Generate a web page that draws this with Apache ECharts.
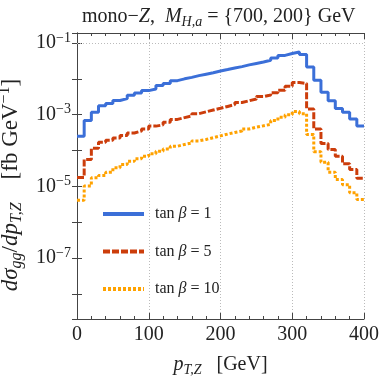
<!DOCTYPE html>
<html>
<head>
<meta charset="utf-8">
<script src="https://cdn.jsdelivr.net/npm/echarts@6/dist/echarts.min.js"></script>
<style>
  html, body { margin: 0; padding: 0; background: #fff; }
  #chart { width: 381px; height: 381px; }
</style>
</head>
<body>
<div id="chart"></div>
<script>
// bin lower edges (GeV), 10 GeV bins
const binLo = [0, 10, 20, 30, 40, 50, 60, 70, 80, 90,
  100, 110, 120, 130, 140, 150, 160, 170, 180, 190,
  200, 210, 220, 230, 240, 250, 260, 270, 280, 290,
  300, 310, 320, 330, 340, 350, 360, 370, 380, 390]
const binEnd = 400

// tan beta = 1
const tb1 = [2.5e-4, 6.9e-4, 1.17e-3, 1.78e-3, 2.04e-3, 2.5e-3, 2.8e-3, 3.5e-3, 4.0e-3, 4.7e-3,
  5.2e-3, 6.5e-3, 7.4e-3, 8.9e-3, 1.0e-2, 1.1e-2, 1.23e-2, 1.35e-2, 1.48e-2, 1.66e-2,
  1.82e-2, 2.0e-2, 2.19e-2, 2.45e-2, 2.69e-2, 2.95e-2, 3.3e-2, 3.8e-2, 4.5e-2, 5.1e-2,
  5.6e-2, 4.8e-2, 2.14e-2, 9.1e-3, 4.2e-3, 2.45e-3, 1.48e-3, 1.17e-3, 7.6e-4, 4.8e-4]
// tan beta = 5
const tb5 = [1.78e-5, 5.6e-5, 1.15e-4, 1.7e-4, 1.95e-4, 2.24e-4, 2.63e-4, 3.1e-4, 3.5e-4, 4.0e-4,
  4.8e-4, 5.2e-4, 6.2e-4, 7.4e-4, 8.3e-4, 9.3e-4, 1.07e-3, 1.2e-3, 1.35e-3, 1.51e-3,
  1.7e-3, 1.91e-3, 2.19e-3, 2.45e-3, 2.75e-3, 3.2e-3, 3.55e-3, 4.1e-3, 4.8e-3, 6.2e-3,
  7.9e-3, 7.4e-3, 1.45e-3, 4.0e-4, 1.58e-4, 1.07e-4, 6.9e-5, 4.3e-5, 2.95e-5, 1.7e-5]
// tan beta = 10
const tb10 = [4.1e-6, 1.02e-5, 1.74e-5, 2.0e-5, 2.5e-5, 3.3e-5, 4.1e-5, 5.0e-5, 5.9e-5, 6.9e-5,
  8.1e-5, 9.5e-5, 1.1e-4, 1.32e-4, 1.48e-4, 1.62e-4, 1.86e-4, 2.04e-4, 2.29e-4, 2.57e-4,
  2.88e-4, 3.2e-4, 3.5e-4, 4.0e-4, 4.5e-4, 4.9e-4, 5.4e-4, 6.9e-4, 8.5e-4, 1.0e-3,
  1.23e-3, 1.07e-3, 2.8e-4, 9.3e-5, 4.7e-5, 2.5e-5, 1.55e-5, 1.12e-5, 6.6e-6, 4.3e-6]

const seriesNames = ['tan β = 1', 'tan β = 5', 'tan β = 10']
const gridDecades = [1e-1, 1e-3, 1e-5, 1e-7]

const serif = "'Liberation Serif', 'DejaVu Serif', serif"
const ink = '#222'

function steps(vals) {
  let d = binLo.map((x, i) => [x, vals[i]])
  d.push([binEnd, vals[vals.length - 1]])
  return d
}

const richText = {
  r: { fontFamily: serif, fontSize: 20, color: ink, lineHeight: 24 },
  i: { fontFamily: serif, fontSize: 20, color: ink, fontStyle: 'italic', lineHeight: 24 },
  s: { fontFamily: serif, fontSize: 14, color: ink, fontStyle: 'italic', lineHeight: 14, verticalAlign: 'bottom' },
  sp: { fontFamily: serif, fontSize: 14, color: ink, lineHeight: 14, verticalAlign: 'top' }
}

// y axis title is set a bit larger in the original
const yNameRich = {
  r: { fontFamily: serif, fontSize: 23, color: ink, lineHeight: 28 },
  i: { fontFamily: serif, fontSize: 23, color: ink, fontStyle: 'italic', lineHeight: 28 },
  s: { fontFamily: serif, fontSize: 16, color: ink, fontStyle: 'italic', lineHeight: 16, verticalAlign: 'bottom' },
  sp: { fontFamily: serif, fontSize: 16, color: ink, lineHeight: 16, verticalAlign: 'top' }
}

const legendRich = {
  i: { fontFamily: serif, fontSize: 16, color: ink, fontStyle: 'italic' }
}

const frameLine = { show: true, lineStyle: { color: '#444', width: 1 } }

const option = {
  animation: false,
  title: {
    text: '{r|mono−}{i|Z}{r|,  }{i|M}{s|H,a}{r| = }\u007B700, 200\u007D GeV',
    left: 77,
    top: 0,
    textStyle: { fontFamily: serif, fontSize: 20, color: ink, lineHeight: 24, fontWeight: 'normal', rich: richText }
  },
  grid: { left: 77, top: 33, right: 17, bottom: 62, outerBoundsMode: 'none', containLabel: false },
  legend: {
    data: seriesNames,
    orient: 'vertical',
    left: 101,
    top: 204,
    padding: 0,
    itemWidth: 41,
    itemHeight: 14,
    itemGap: 17.5,
    itemStyle: { opacity: 0 },
    lineStyle: { width: 4 },
    formatter(name) {
      return 'tan {i|β}' + name.slice(5)
    },
    textStyle: { fontFamily: serif, fontSize: 16, color: ink, lineHeight: 20, padding: [0, 0, 0, 6], rich: legendRich }
  },
  xAxis: [
    {
      type: 'value',
      min: 0, max: 400, interval: 100,
      name: '{i|p}{s|T,Z}{r|   [GeV]}',
      nameLocation: 'middle',
      nameGap: 34,
      nameTextStyle: { rich: richText },
      axisLine: frameLine,
      axisTick: { inside: true, length: 6, lineStyle: { color: '#444' } },
      minorTick: { show: true, splitNumber: 5, length: 3, lineStyle: { color: '#444' } },
      axisLabel: { fontFamily: serif, fontSize: 20, color: ink, margin: 6 },
      splitLine: { show: true, lineStyle: { color: '#bbb', type: [1, 2] } }
    },
    {
      type: 'value', position: 'top',
      min: 0, max: 400, interval: 100,
      axisLine: frameLine,
      axisTick: { inside: true, length: 6, lineStyle: { color: '#444' } },
      minorTick: { show: true, splitNumber: 5, length: 3, lineStyle: { color: '#444' } },
      axisLabel: { show: false },
      splitLine: { show: false }
    }
  ],
  yAxis: [
    {
      type: 'log', logBase: 10,
      min: 2e-9, max: 0.19,
      splitNumber: 8,
      name: '{i|dσ}{s|gg}{r|/}{i|dp}{s|T,Z}{r|    [fb GeV}{sp|−1}{r|]}',
      nameLocation: 'middle',
      nameRotate: 90,
      nameGap: 48,
      nameTextStyle: { rich: yNameRich, padding: [0, 18, 0, 0] },
      axisLine: frameLine,
      axisTick: { inside: true, length: 5, lineStyle: { color: '#444' } },
      axisLabel: {
        margin: 6,
        formatter(v) {
          let e = Math.log10(v)
          let k = Math.round(e)
          if (Math.abs(e - k) > 1e-6 || k % 2 === 0) return ''
          return '{r|10}{sp|−' + (-k) + '}'
        },
        rich: richText
      },
      splitLine: { show: false }
    },
    {
      type: 'log', logBase: 10, position: 'right',
      min: 2e-9, max: 0.19,
      splitNumber: 8,
      axisLine: frameLine,
      axisTick: { inside: true, length: 5, lineStyle: { color: '#444' } },
      axisLabel: { show: false },
      splitLine: { show: false }
    }
  ],
  series: [
    {
      name: 'gridlines',
      type: 'line',
      data: [],
      z: 1,
      markLine: {
        silent: true,
        symbol: 'none',
        label: { show: false },
        lineStyle: { color: '#bbb', type: [1, 2], width: 1 },
        data: gridDecades.map(v => ({ yAxis: v }))
      }
    },
    {
      name: seriesNames[0], type: 'line', step: 'end', symbol: 'none', z: 3,
      data: steps(tb1),
      color: '#3B6FD8',
      lineStyle: { width: 3 }
    },
    {
      name: seriesNames[1], type: 'line', step: 'end', symbol: 'none', z: 4,
      data: steps(tb5),
      color: '#CC3D0B',
      lineStyle: { width: 3, type: [7, 2] }
    },
    {
      name: seriesNames[2], type: 'line', step: 'end', symbol: 'none', z: 5,
      data: steps(tb10),
      color: '#FFA200',
      lineStyle: { width: 3, type: [3, 2] }
    }
  ]
}

const chart = echarts.init(document.getElementById('chart'))
chart.setOption(option)
</script>
</body>
</html>
